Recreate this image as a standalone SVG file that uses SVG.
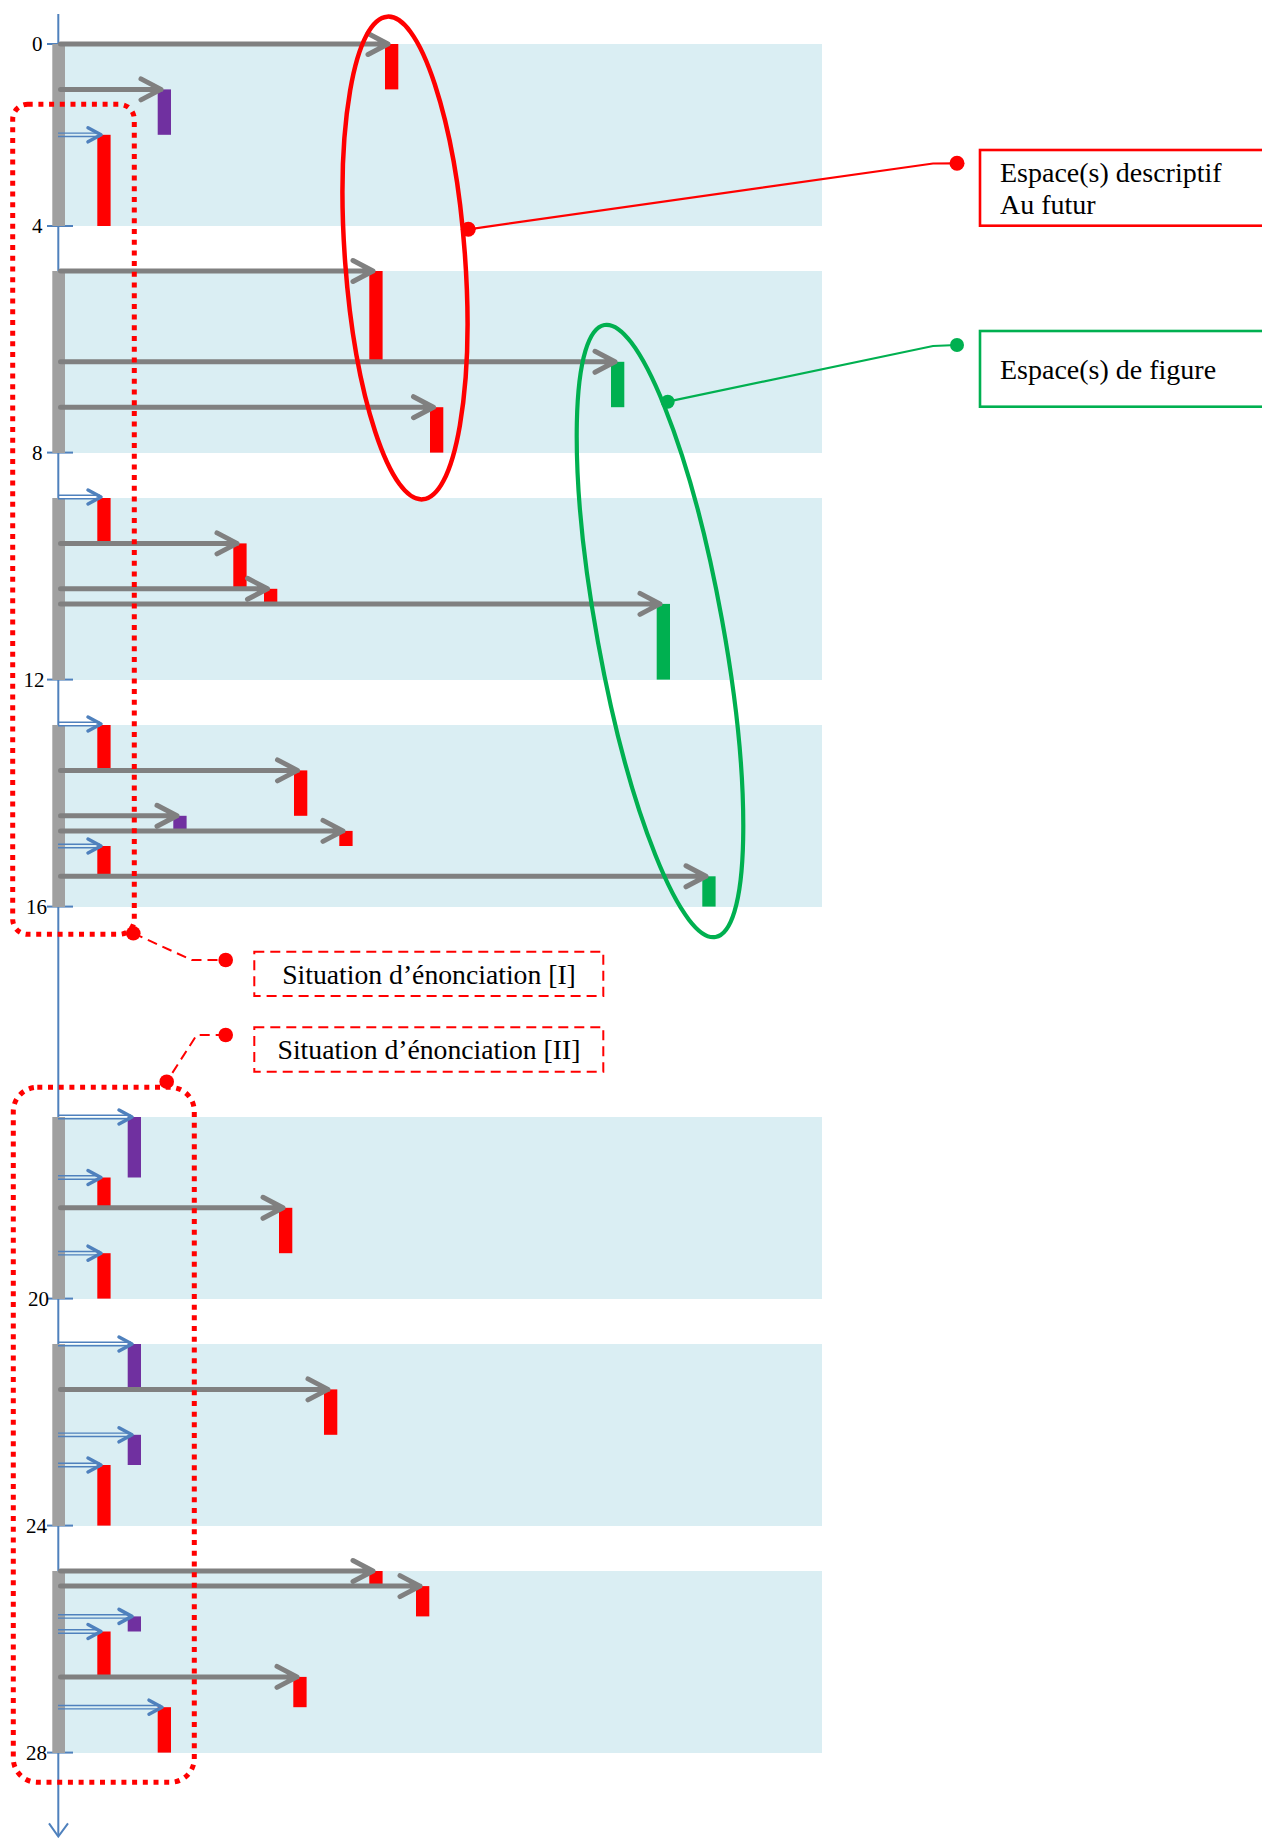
<svg xmlns="http://www.w3.org/2000/svg" width="1262" height="1838" viewBox="0 0 1262 1838">
<style>
.band{fill:#DAEEF3}
.gbar{fill:#A0A0A0}
.axis{stroke:#4F81BD;stroke-width:2;fill:none}
.lbl{font-family:"Liberation Serif","Times New Roman",serif;font-size:21px;fill:#000;text-anchor:end}
.txt{font-family:"Liberation Serif","Times New Roman",serif;font-size:28px;fill:#000}
.stxt{font-family:"Liberation Serif","Times New Roman",serif;font-size:27.7px;fill:#000;text-anchor:middle}
.ga{stroke:#808080;stroke-width:5;fill:none;stroke-linecap:round;stroke-linejoin:round}
.ba{stroke:#4F81BD;stroke-width:1.4;fill:none}
.bh{stroke:#4F81BD;stroke-width:3.5;fill:none;stroke-linecap:round;stroke-linejoin:round}
.r{fill:#FF0000}
.p{fill:#7030A0}
.g{fill:#00B050}
.dotted{fill:none;stroke:#FF0000;stroke-width:5;stroke-dasharray:5 5.7}
.dashed{fill:none;stroke:#FF0000;stroke-width:2;stroke-dasharray:10 6}
</style>

<g id="bands">
<rect class="band" x="65" y="44" width="757" height="182"/>
<rect class="band" x="65" y="271" width="757" height="182"/>
<rect class="band" x="65" y="498" width="757" height="182"/>
<rect class="band" x="65" y="725" width="757" height="182"/>
<rect class="band" x="65" y="1117" width="757" height="182"/>
<rect class="band" x="65" y="1344" width="757" height="182"/>
<rect class="band" x="65" y="1571" width="757" height="182"/>
</g>

<g id="axis">
<line class="axis" x1="58.3" y1="14" x2="58.3" y2="1836"/>
<polyline class="axis" points="49,1823.3 58.3,1836.5 68,1823.3"/>
<line class="axis" x1="47" y1="44" x2="58" y2="44"/>
<line class="axis" x1="47" y1="226" x2="73" y2="226"/>
<line class="axis" x1="47" y1="452.6" x2="73" y2="452.6"/>
<line class="axis" x1="47" y1="679.6" x2="73" y2="679.6"/>
<line class="axis" x1="47" y1="906.6" x2="73" y2="906.6"/>
<line class="axis" x1="47" y1="1298.6" x2="73" y2="1298.6"/>
<line class="axis" x1="47" y1="1525.6" x2="73" y2="1525.6"/>
<line class="axis" x1="47" y1="1752.6" x2="73" y2="1752.6"/>
<rect class="gbar" x="52.3" y="44" width="12.7" height="182"/>
<rect class="gbar" x="52.3" y="271" width="12.7" height="182"/>
<rect class="gbar" x="52.3" y="498" width="12.7" height="182"/>
<rect class="gbar" x="52.3" y="725" width="12.7" height="182"/>
<rect class="gbar" x="52.3" y="1117" width="12.7" height="182"/>
<rect class="gbar" x="52.3" y="1344" width="12.7" height="182"/>
<rect class="gbar" x="52.3" y="1571" width="12.7" height="182"/>
<text class="lbl" x="42.5" y="51">0</text>
<text class="lbl" x="42.5" y="233.2">4</text>
<text class="lbl" x="42.5" y="459.8">8</text>
<text class="lbl" x="44.5" y="686.8">12</text>
<text class="lbl" x="47" y="913.5">16</text>
<text class="lbl" x="49" y="1305.8">20</text>
<text class="lbl" x="47" y="1532.8">24</text>
<text class="lbl" x="47" y="1759.8">28</text>
</g>

<g id="bars">
<rect class="r" x="385" y="44" width="13.3" height="45.4"/>
<rect class="p" x="157.7" y="89.4" width="13.3" height="45.4"/>
<rect class="r" x="97.3" y="134.8" width="13.3" height="91.2"/>
<rect class="r" x="369.3" y="271" width="13.3" height="90.8"/>
<rect class="g" x="611" y="361.8" width="13.3" height="45.4"/>
<rect class="r" x="430" y="407.2" width="13.3" height="45.4"/>
<rect class="r" x="97.3" y="498" width="13.3" height="45.4"/>
<rect class="r" x="233.3" y="543.4" width="13.3" height="45.4"/>
<rect class="r" x="264" y="588.8" width="13.3" height="15.1"/>
<rect class="g" x="656.7" y="603.9" width="13.3" height="75.7"/>
<rect class="r" x="97.3" y="725" width="13.3" height="45.4"/>
<rect class="r" x="294" y="770.4" width="13.3" height="45.4"/>
<rect class="p" x="173.3" y="815.8" width="13.3" height="15.1"/>
<rect class="r" x="339.3" y="830.9" width="13.3" height="15.1"/>
<rect class="r" x="97.3" y="846" width="13.3" height="30.3"/>
<rect class="g" x="702.3" y="876.3" width="13.3" height="30.3"/>
<rect class="p" x="127.7" y="1117" width="13.3" height="60.5"/>
<rect class="r" x="97.3" y="1177.5" width="13.3" height="30.3"/>
<rect class="r" x="279" y="1207.8" width="13.3" height="45.4"/>
<rect class="r" x="97.3" y="1253.2" width="13.3" height="45.4"/>
<rect class="p" x="127.7" y="1344" width="13.3" height="45.4"/>
<rect class="r" x="324" y="1389.4" width="13.3" height="45.4"/>
<rect class="p" x="127.7" y="1434.8" width="13.3" height="30.2"/>
<rect class="r" x="97.3" y="1465" width="13.3" height="60.6"/>
<rect class="r" x="369.3" y="1571" width="13.3" height="15.1"/>
<rect class="r" x="416" y="1586.1" width="13.3" height="30.3"/>
<rect class="p" x="127.7" y="1616.4" width="13.3" height="15.1"/>
<rect class="r" x="97.3" y="1631.5" width="13.3" height="45.4"/>
<rect class="r" x="293.3" y="1676.9" width="13.3" height="30.3"/>
<rect class="r" x="157.7" y="1707.2" width="13.3" height="45.4"/>
</g>

<g id="connectors">
<path class="ga" d="M60.5 44H388M368 33.5L388 44L368 54.5"/>
<path class="ga" d="M60.5 89.4H161M141 78.9L161 89.4L141 99.9"/>
<path class="ga" d="M60.5 271H373M353 260.5L373 271L353 281.5"/>
<path class="ga" d="M60.5 361.8H615M595 351.3L615 361.8L595 372.3"/>
<path class="ga" d="M60.5 407.2H433.5M413.5 396.7L433.5 407.2L413.5 417.7"/>
<path class="ga" d="M60.5 543.4H237M217 532.9L237 543.4L217 553.9"/>
<path class="ga" d="M60.5 588.8H267.5M247.5 578.3L267.5 588.8L247.5 599.3"/>
<path class="ga" d="M60.5 603.9H660M640 593.4L660 603.9L640 614.4"/>
<path class="ga" d="M60.5 770.4H297.5M277.5 759.9L297.5 770.4L277.5 780.9"/>
<path class="ga" d="M60.5 815.8H177M157 805.3L177 815.8L157 826.3"/>
<path class="ga" d="M60.5 830.9H343M323 820.4L343 830.9L323 841.4"/>
<path class="ga" d="M60.5 876.3H706M686 865.8L706 876.3L686 886.8"/>
<path class="ga" d="M60.5 1207.8H283M263 1197.3L283 1207.8L263 1218.3"/>
<path class="ga" d="M60.5 1389.4H328M308 1378.9L328 1389.4L308 1399.9"/>
<path class="ga" d="M60.5 1571H373M353 1560.5L373 1571L353 1581.5"/>
<path class="ga" d="M60.5 1586.1H420M400 1575.6L420 1586.1L400 1596.6"/>
<path class="ga" d="M60.5 1676.9H297M277 1666.4L297 1676.9L277 1687.4"/>
<path class="ba" d="M58 133.1H100M58 136.5H100"/><polyline class="bh" points="88,127.8 101,134.8 88,141.8"/>
<path class="ba" d="M58 495.3H100M58 498.7H100"/><polyline class="bh" points="88,490 101,497 88,504"/>
<path class="ba" d="M58 722.3H100M58 725.7H100"/><polyline class="bh" points="88,717 101,724 88,731"/>
<path class="ba" d="M58 844.3H100M58 847.7H100"/><polyline class="bh" points="88,839 101,846 88,853"/>
<path class="ba" d="M58 1115.3H131M58 1118.7H131"/><polyline class="bh" points="119,1110 132,1117 119,1124"/>
<path class="ba" d="M58 1175.8H100M58 1179.2H100"/><polyline class="bh" points="88,1170.5 101,1177.5 88,1184.5"/>
<path class="ba" d="M58 1251.5H100M58 1254.9H100"/><polyline class="bh" points="88,1246.2 101,1253.2 88,1260.2"/>
<path class="ba" d="M58 1342.3H131M58 1345.7H131"/><polyline class="bh" points="119,1337 132,1344 119,1351"/>
<path class="ba" d="M58 1433.1H131M58 1436.5H131"/><polyline class="bh" points="119,1427.8 132,1434.8 119,1441.8"/>
<path class="ba" d="M58 1463.3H100M58 1466.7H100"/><polyline class="bh" points="88,1458 101,1465 88,1472"/>
<path class="ba" d="M58 1614.7H131M58 1618.1H131"/><polyline class="bh" points="119,1609.4 132,1616.4 119,1623.4"/>
<path class="ba" d="M58 1629.8H100M58 1633.2H100"/><polyline class="bh" points="88,1624.5 101,1631.5 88,1638.5"/>
<path class="ba" d="M58 1705.5H161M58 1708.9H161"/><polyline class="bh" points="149,1700.2 162,1707.2 149,1714.2"/>
</g>

<g id="espace-descriptif">
<ellipse cx="405" cy="258" rx="60" ry="242" transform="rotate(-4.2 405 258)" fill="none" stroke="#FF0000" stroke-width="4.5"/>
<polyline points="468.3,229.3 933,163.5 957,163.3" fill="none" stroke="#FF0000" stroke-width="2.2"/>
<circle cx="468.3" cy="229.3" r="7.5" fill="#FF0000"/>
<circle cx="957" cy="163.3" r="7.5" fill="#FF0000"/>
<rect x="980" y="150" width="320" height="75.7" fill="#FFFFFF" stroke="#FF0000" stroke-width="2.6"/>
<text class="txt" x="1000" y="181.7">Espace(s) descriptif</text>
<text class="txt" x="1000" y="214.3">Au futur</text>
</g>

<g id="espace-figure">
<ellipse cx="660" cy="631" rx="63" ry="311" transform="rotate(-10.3 660 631)" fill="none" stroke="#00B050" stroke-width="4.2"/>
<polyline points="667.7,401.7 933,346 957,345" fill="none" stroke="#00B050" stroke-width="2.2"/>
<circle cx="667.7" cy="401.7" r="7" fill="#00B050"/>
<circle cx="957" cy="345" r="7" fill="#00B050"/>
<rect x="980" y="331" width="320" height="75.7" fill="#FFFFFF" stroke="#00B050" stroke-width="2.6"/>
<text class="txt" x="1000" y="379.3">Espace(s) de figure</text>
</g>

<g id="situation-1">
<rect class="dotted" x="12.7" y="104.3" width="121.6" height="830" rx="15"/>
<polyline class="dashed" points="133.3,933.3 191.7,960 225.7,960"/>
<circle cx="133.3" cy="933.3" r="7.3" fill="#FF0000"/>
<circle cx="225.7" cy="960" r="7.3" fill="#FF0000"/>
<rect class="dashed" x="254.3" y="951.7" width="349" height="44.3"/>
<text class="stxt" x="429" y="984">Situation d’énonciation [I]</text>
</g>

<g id="situation-2">
<rect class="dotted" x="13.3" y="1087.3" width="181" height="695" rx="24"/>
<polyline class="dashed" points="225.7,1035 196.7,1035 166.7,1081.7"/>
<circle cx="225.7" cy="1035" r="7.3" fill="#FF0000"/>
<circle cx="166.7" cy="1081.7" r="7.3" fill="#FF0000"/>
<rect class="dashed" x="254.3" y="1027.3" width="349" height="44.4"/>
<text class="stxt" x="429" y="1059.3">Situation d’énonciation [II]</text>
</g>
</svg>
